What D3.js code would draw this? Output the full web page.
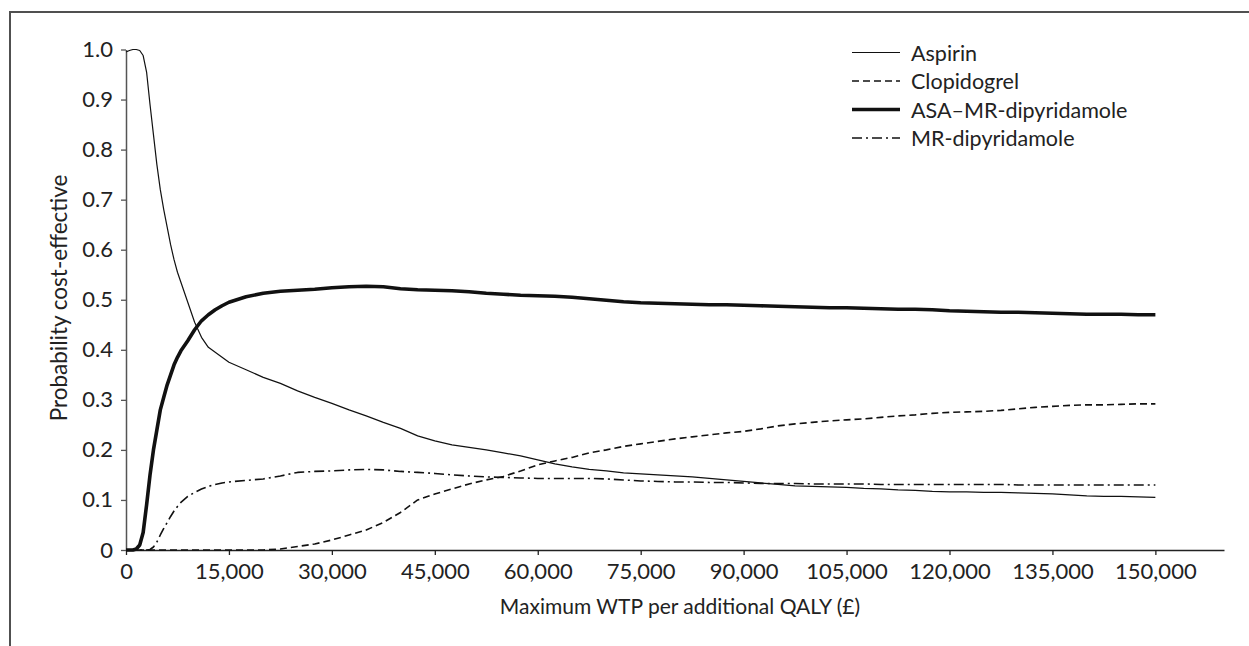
<!DOCTYPE html>
<html>
<head>
<meta charset="utf-8">
<script src="https://cdn.jsdelivr.net/npm/d3@7"></script>
<style>
  html, body { margin: 0; padding: 0; background: #fff; }
  svg { display: block; font-family: Lato, "Open Sans", sans-serif; }
</style>
</head>
<body>
<svg id="chart" width="1249" height="646"></svg>
<script>
// Willingness-to-pay grid (£ per QALY)
const wtp = [0, 500, 1000, 1500, 2000, 2500, 3000, 3500, 4000, 4500, 5000, 5500, 6000, 6500, 7000, 7500, 8000, 9000, 10000, 11000, 12000, 13000, 14000, 15000,
  17500, 20000, 22500, 25000, 27500, 30000, 32500, 35000, 37500, 40000, 42500, 45000, 47500, 50000, 52500, 55000, 57500, 60000,
  62500, 65000, 67500, 70000, 72500, 75000, 77500, 80000, 82500, 85000, 87500, 90000, 92500, 95000, 97500, 100000,
  102500, 105000, 107500, 110000, 112500, 115000, 117500, 120000, 122500, 125000, 127500, 130000, 132500, 135000, 137500, 140000,
  142500, 145000, 147500, 150000];

// Probability each strategy is cost-effective at each WTP value
const aspirin = [0.995, 0.998, 1.0, 1.0, 0.998, 0.988, 0.955, 0.89, 0.83, 0.77, 0.72, 0.68, 0.645, 0.61, 0.58, 0.555, 0.535, 0.495, 0.455, 0.425, 0.405, 0.395, 0.385, 0.375,
  0.36, 0.345, 0.333, 0.318, 0.305, 0.293, 0.28, 0.268, 0.255, 0.243, 0.228, 0.218, 0.21, 0.205, 0.2, 0.194, 0.188, 0.18,
  0.172, 0.166, 0.161, 0.158, 0.154, 0.152, 0.15, 0.148, 0.146, 0.143, 0.14, 0.137, 0.134, 0.131, 0.128, 0.127,
  0.126, 0.125, 0.123, 0.122, 0.12, 0.119, 0.117, 0.116, 0.116, 0.115, 0.115, 0.114, 0.113, 0.112, 0.11, 0.108,
  0.107, 0.107, 0.106, 0.105];

const clopidogrel = [0, 0, 0, 0, 0, 0, 0, 0, 0, 0, 0, 0, 0, 0, 0, 0, 0, 0, 0, 0, 0, 0, 0, 0,
  0, 0, 0.002, 0.007, 0.012, 0.02, 0.03, 0.04, 0.055, 0.075, 0.1, 0.112, 0.122, 0.132, 0.14, 0.147, 0.158, 0.17,
  0.178, 0.185, 0.194, 0.2, 0.207, 0.212, 0.217, 0.222, 0.226, 0.23, 0.234, 0.237, 0.242, 0.248, 0.252, 0.255,
  0.258, 0.26, 0.262, 0.265, 0.268, 0.27, 0.273, 0.275, 0.276, 0.277, 0.279, 0.282, 0.285, 0.287, 0.289, 0.29,
  0.29, 0.291, 0.292, 0.292];

const asaMrDipyridamole = [0, 0, 0, 0.002, 0.01, 0.035, 0.09, 0.15, 0.2, 0.24, 0.28, 0.305, 0.33, 0.35, 0.37, 0.385, 0.398, 0.418, 0.44, 0.458, 0.47, 0.48, 0.488, 0.495,
  0.506, 0.513, 0.517, 0.519, 0.521, 0.524, 0.526, 0.527, 0.526, 0.522, 0.52, 0.519, 0.518, 0.516, 0.513, 0.511, 0.509, 0.508,
  0.507, 0.505, 0.502, 0.499, 0.496, 0.494, 0.493, 0.492, 0.491, 0.49, 0.49, 0.489, 0.488, 0.487, 0.486, 0.485,
  0.484, 0.484, 0.483, 0.482, 0.481, 0.481, 0.48, 0.478, 0.477, 0.476, 0.475, 0.475, 0.474, 0.473, 0.472, 0.471,
  0.471, 0.471, 0.47, 0.47];

const mrDipyridamole = [0, 0, 0, 0, 0, 0, 0, 0.001, 0.006, 0.016, 0.03, 0.043, 0.055, 0.067, 0.078, 0.087, 0.095, 0.107, 0.115, 0.122, 0.127, 0.131, 0.134, 0.136,
  0.139, 0.142, 0.148, 0.155, 0.157, 0.158, 0.16, 0.161, 0.16, 0.157, 0.155, 0.153, 0.15, 0.148, 0.146, 0.145, 0.144, 0.143,
  0.143, 0.143, 0.143, 0.142, 0.14, 0.138, 0.137, 0.136, 0.136, 0.135, 0.135, 0.134, 0.133, 0.133, 0.133, 0.132,
  0.132, 0.132, 0.132, 0.131, 0.131, 0.131, 0.131, 0.131, 0.131, 0.131, 0.131, 0.13, 0.13, 0.13, 0.13, 0.13,
  0.13, 0.13, 0.13, 0.13];

const seriesNames = ["Aspirin", "Clopidogrel", "ASA\u2013MR-dipyridamole", "MR-dipyridamole"];
const seriesValues = [aspirin, clopidogrel, asaMrDipyridamole, mrDipyridamole];

const xTickValues = [0, 15000, 30000, 45000, 60000, 75000, 90000, 105000, 120000, 135000, 150000];
const xTickLabels = ["0", "15,000", "30,000", "45,000", "60,000", "75,000", "90,000", "105,000", "120,000", "135,000", "150,000"];
const yTickValues = [0, 0.1, 0.2, 0.3, 0.4, 0.5, 0.6, 0.7, 0.8, 0.9, 1.0];
const yTickLabels = ["0", "0.1", "0.2", "0.3", "0.4", "0.5", "0.6", "0.7", "0.8", "0.9", "1.0"];

const xTitle = "Maximum WTP per additional QALY (\u00a3)";
const yTitle = "Probability cost-effective";

// Line styles per series
const styles = [
  { width: 1.2, dash: null },
  { width: 1.6, dash: "7,4" },
  { width: 3.6, dash: null },
  { width: 1.6, dash: "10,4,2,4" }
];

const svg = d3.select("#chart");

// Outer frame (top and left edges)
svg.append("path")
  .attr("d", "M10,646 L10,12 L1249,12")
  .attr("fill", "none")
  .attr("stroke", "#505050")
  .attr("stroke-width", 2);

const x = d3.scaleLinear().domain([0, 160000]).range([126, 1224]);
const y = d3.scaleLinear().domain([0, 1]).range([550, 49.5]);

// X axis
const xAxis = svg.append("g")
  .attr("transform", `translate(0,${y(0)})`)
  .call(d3.axisBottom(x)
    .tickValues(xTickValues)
    .tickFormat((d, i) => xTickLabels[i])
    .tickSize(5)
    .tickPadding(8)
    .tickSizeOuter(0));
xAxis.select(".domain").attr("stroke", "#222").attr("stroke-width", 1.5);
xAxis.selectAll(".tick line").attr("stroke", "#222").attr("stroke-width", 1.3);
xAxis.selectAll(".tick text")
  .attr("font-size", 22)
  .attr("fill", "#222")
  .attr("font-family", "Lato, sans-serif");

// Y axis
const yAxis = svg.append("g")
  .attr("transform", `translate(${x(0)},0)`)
  .call(d3.axisLeft(y)
    .tickValues(yTickValues)
    .tickFormat((d, i) => yTickLabels[i])
    .tickSize(5)
    .tickPadding(8)
    .tickSizeOuter(0));
yAxis.select(".domain").attr("stroke", "#555").attr("stroke-width", 1.5);
yAxis.selectAll(".tick line").attr("stroke", "#555").attr("stroke-width", 1.3);
yAxis.selectAll(".tick text")
  .attr("font-size", 22)
  .attr("fill", "#222")
  .attr("font-family", "Lato, sans-serif");

// Axis titles
svg.append("text")
  .attr("x", 680)
  .attr("y", 614)
  .attr("text-anchor", "middle")
  .attr("font-size", 21)
  .attr("fill", "#222")
  .text(xTitle);

svg.append("text")
  .attr("transform", "translate(67,298) rotate(-90)")
  .attr("text-anchor", "middle")
  .attr("font-size", 22.5)
  .attr("fill", "#222")
  .text(yTitle);

// Curves
const line = d3.line()
  .x((d, i) => x(wtp[i]))
  .y(d => y(d))
  .curve(d3.curveLinear);

seriesValues.forEach((vals, k) => {
  svg.append("path")
    .datum(vals)
    .attr("fill", "none")
    .attr("stroke", "#111")
    .attr("stroke-width", styles[k].width)
    .attr("stroke-dasharray", styles[k].dash)
    .attr("stroke-linejoin", "round")
    .attr("d", line);
});

// Legend
const legend = svg.append("g");
const legendY = [52.5, 81, 109.5, 138];
seriesNames.forEach((name, k) => {
  legend.append("line")
    .attr("x1", 852).attr("x2", 900)
    .attr("y1", legendY[k]).attr("y2", legendY[k])
    .attr("stroke", "#111")
    .attr("stroke-width", styles[k].width)
    .attr("stroke-dasharray", styles[k].dash);
  legend.append("text")
    .attr("x", 911)
    .attr("y", legendY[k])
    .attr("dominant-baseline", "central")
    .attr("font-size", 21.5)
    .attr("fill", "#222")
    .text(name);
});
</script>
</body>
</html>
